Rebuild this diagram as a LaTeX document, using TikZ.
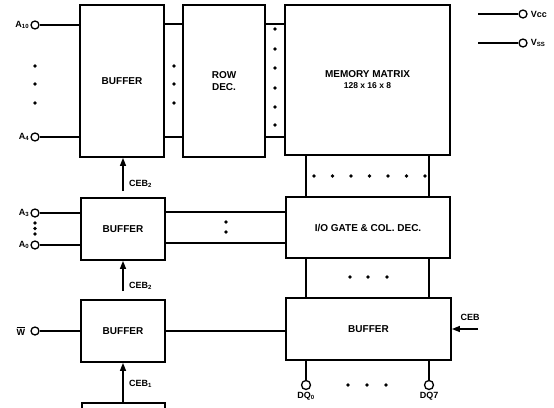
\documentclass[tikz,border=0pt]{standalone}
\usepackage{fontspec}
\setmainfont{Liberation Sans}
\usetikzlibrary{arrows.meta}

\begin{document}
\begin{tikzpicture}[x=1pt,y=-1pt,
  block/.style={draw,line width=1.8pt,inner sep=0pt,align=center,
    font=\fontsize{10}{12}\selectfont\bfseries},
  pin/.style={draw,circle,line width=1.3pt,fill=white,inner sep=0pt,minimum size=8pt},
  wire/.style={line width=1.4pt},
  dot/.style={circle,fill,inner sep=0pt,minimum size=3.6pt},
  lbl/.style={inner sep=1pt,font=\fontsize{9}{10}\selectfont\bfseries},
  ceb/.style={line width=1.4pt,-{Triangle[length=8pt,width=6pt]}}]
\useasboundingbox (0,0) rectangle (554,407);
\clip (0,0) rectangle (554,407);

\node[block,minimum width=84pt,minimum height=152pt] (bufa) at (122,81) {BUFFER};
\node[block,minimum width=82pt,minimum height=152pt] (rowdec) at (224,81) {ROW\\DEC.};
\node[block,minimum width=165pt,minimum height=150pt] (memmat) at (367.5,80)
  {MEMORY MATRIX\\[-1pt]{\fontsize{8.5}{10}\selectfont 128 x 16 x 8}};
\node[block,minimum width=84pt,minimum height=62pt] (bufb) at (123,229) {BUFFER};
\node[block,minimum width=164pt,minimum height=61pt] (iogate) at (368,227.5) {I/O GATE \& COL. DEC.};
\node[block,minimum width=84pt,minimum height=62pt] (bufc) at (123,331) {BUFFER};
\node[block,minimum width=165pt,minimum height=62pt] (bufd) at (368.5,329) {BUFFER};
\node[block,minimum width=83pt,minimum height=60pt] (bufe) at (123.5,433) {};

\node[pin] (a10) at (35,25) {};
\node[pin] (a4) at (35,137) {};
\node[pin] (a3) at (35,213) {};
\node[pin] (a0) at (35,245) {};
\node[pin] (wbar) at (35,331) {};
\node[pin] (vcc) at (523,14) {};
\node[pin] (vss) at (523,43) {};
\node[pin,minimum size=9pt] (dq0) at (306,385) {};
\node[pin,minimum size=9pt] (dq7) at (429,385) {};

\node[lbl,anchor=east] at (a10.west) {A\textsubscript{10}};
\node[lbl,anchor=east] at (a4.west) {A\textsubscript{4}};
\node[lbl,anchor=east] at (a3.west) {A\textsubscript{3}};
\node[lbl,anchor=east] at (a0.west) {A\textsubscript{0}};
\node[lbl,anchor=east,xshift=-4pt] at (wbar.west) {$\overline{\mbox{W}}$};
\node[lbl,anchor=west,xshift=2pt] at (vcc.east) {Vcc};
\node[lbl,anchor=west,xshift=2pt] at (vss.east) {V\textsubscript{SS}};
\node[lbl,anchor=north,yshift=-1pt] at (dq0.south) {DQ\textsubscript{0}};
\node[lbl,anchor=north,yshift=-1pt] at (dq7.south) {DQ7};

\coordinate (vcct) at (478,14);
\coordinate (vsst) at (478,43);
\coordinate (ceba) at (123,191);
\coordinate (cebb) at (123,291);
\coordinate (cebc) at (123,403);
\coordinate (cebd) at (478,329);

\draw[wire] (a10) -- (a10 -| bufa.west);
\draw[wire] (a4) -- (a4 -| bufa.west);
\draw[wire] (bufa.east |- 0,24) -- (rowdec.west |- 0,24);
\draw[wire] (bufa.east |- 0,137) -- (rowdec.west |- 0,137);
\draw[wire] (rowdec.east |- 0,24) -- (memmat.west |- 0,24);
\draw[wire] (rowdec.east |- 0,137) -- (memmat.west |- 0,137);
\draw[wire] (vcct) -- (vcc);
\draw[wire] (vsst) -- (vss);

\draw[wire] (a3) -- (a3 -| bufb.west);
\draw[wire] (a0) -- (a0 -| bufb.west);
\draw[wire] (bufb.east |- 0,212) -- (iogate.west |- 0,212);
\draw[wire] (bufb.east |- 0,243) -- (iogate.west |- 0,243);
\draw[wire] (wbar) -- (wbar -| bufc.west);
\draw[wire] (bufc.east) -- (bufc.east -| bufd.west);

\draw[wire] (memmat.south -| dq0) -- (iogate.north -| dq0);
\draw[wire] (memmat.south -| dq7) -- (iogate.north -| dq7);
\draw[wire] (iogate.south -| dq0) -- (bufd.north -| dq0);
\draw[wire] (iogate.south -| dq7) -- (bufd.north -| dq7);
\draw[wire] (bufd.south -| dq0) -- (dq0);
\draw[wire] (bufd.south -| dq7) -- (dq7);

\draw[ceb] (ceba) -- (ceba |- bufa.south);
\node[lbl,anchor=west] at (128,184) {CEB\textsubscript{2}};
\draw[ceb] (cebb) -- (cebb |- bufb.south);
\node[lbl,anchor=west] at (128,286) {CEB\textsubscript{2}};
\draw[ceb] (cebc) -- (cebc |- bufc.south);
\node[lbl,anchor=west] at (128,384) {CEB\textsubscript{1}};
\draw[ceb] (cebd) -- (bufd.east |- cebd);
\node[lbl] at (470,317) {CEB};

\foreach \y in {66,84,103} {
  \node[dot] at (35,\y) {};
  \node[dot] at (174,\y) {};
}
\foreach \y in {29,49,68,88,107,125}
  \node[dot] at (275,\y) {};
\foreach \k in {0,...,6}
  \node[dot] at (314+18.5*\k,176) {};
\foreach \x in {350,368,387}
  \node[dot] at (\x,277) {};
\foreach \x in {348,367,386}
  \node[dot] at (\x,385) {};
\foreach \y in {223,228.5,234}
  \node[dot] at (35,\y) {};
\foreach \y in {222,232}
  \node[dot] at (226,\y) {};
\end{tikzpicture}
\end{document}
